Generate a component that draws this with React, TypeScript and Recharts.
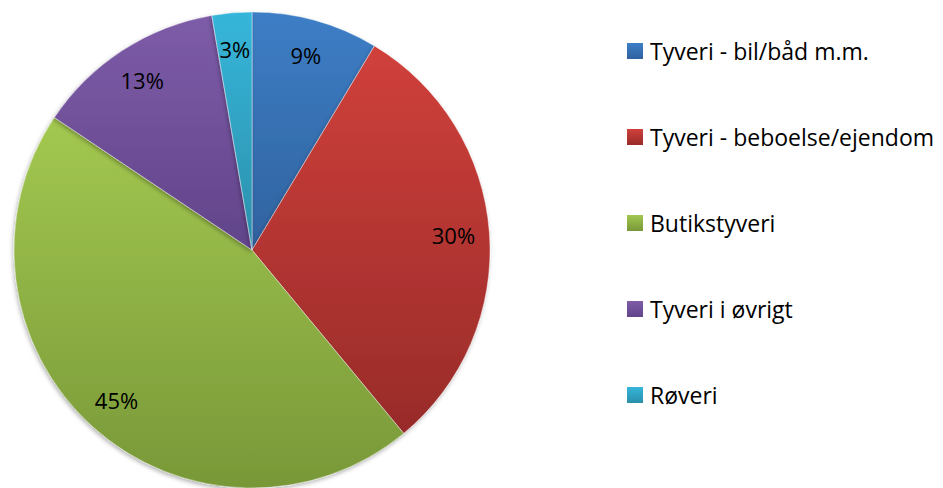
import { PieChart, Pie, Cell, Legend } from "recharts";

const categories = [
  "Tyveri - bil/båd m.m.",
  "Tyveri - beboelse/ejendom",
  "Butikstyveri",
  "Tyveri i øvrigt",
  "Røveri",
];
const shares = [8.6, 30.4, 45.4, 12.9, 2.7];

const data = categories.map((name, i) => ({ name, value: shares[i] }));

// top / bottom colours for each slice's vertical gradient
const COLORS: [string, string][] = [
  ["#3d7ec6", "#30629e"],
  ["#d0403b", "#982b29"],
  ["#a3c850", "#789838"],
  ["#7e5ca8", "#61448a"],
  ["#36b6da", "#2b8fab"],
];

const FONT = "'Open Sans', Lato, sans-serif";
const RAD = Math.PI / 180;

function renderLabel(props: any) {
  const { cx, cy, midAngle, outerRadius, percent } = props;
  const r = outerRadius - 36;
  const x = cx + r * Math.cos(-midAngle * RAD);
  const y = cy + r * Math.sin(-midAngle * RAD);
  return (
    <text
      x={x}
      y={y}
      fill="#000"
      textAnchor="middle"
      dominantBaseline="central"
      fontSize={22}
      fontFamily={FONT}
    >
      {`${Math.round(percent * 100)}%`}
    </text>
  );
}

function LegendBox() {
  return (
    <div style={{ fontFamily: FONT, fontSize: 23, color: "#000" }}>
      {data.map((d, i) => (
        <div
          key={d.name}
          style={{ display: "flex", alignItems: "center", height: 26, marginBottom: 60 }}
        >
          <span
            style={{
              width: 16,
              height: 16,
              marginRight: 7,
              flexShrink: 0,
              background: `linear-gradient(${COLORS[i][0]}, ${COLORS[i][1]})`,
            }}
          />
          <span style={{ whiteSpace: "nowrap" }}>{d.name}</span>
        </div>
      ))}
    </div>
  );
}

export default function App() {
  return (
    <div style={{ position: "absolute", left: 0, top: 0, background: "#fff" }}>
      <PieChart width={943} height={488} margin={{ top: 0, right: 0, bottom: 0, left: 0 }}>
        <defs>
          {COLORS.map((c, i) => (
            <linearGradient key={i} id={`g${i}`} x1="0" y1="0" x2="0" y2="1">
              <stop offset="0%" stopColor={c[0]} />
              <stop offset="100%" stopColor={c[1]} />
            </linearGradient>
          ))}
          <filter id="shadow" x="-10%" y="-10%" width="120%" height="120%">
            <feDropShadow dx="-1" dy="2" stdDeviation="2" floodColor="#000" floodOpacity="0.3" />
          </filter>
        </defs>
        <Pie
          data={data}
          dataKey="value"
          nameKey="name"
          cx={252}
          cy={250}
          outerRadius={238}
          startAngle={90}
          endAngle={-270}
          stroke="#ffffff"
          strokeWidth={0.4}
          label={renderLabel}
          labelLine={false}
          isAnimationActive={false}
          style={{ filter: "url(#shadow)" }}
        >
          {data.map((_, i) => (
            <Cell key={i} fill={`url(#g${i})`} />
          ))}
        </Pie>
        <Legend
          layout="vertical"
          content={<LegendBox />}
          wrapperStyle={{ left: 627, top: 38, width: 316 }}
        />
      </PieChart>
    </div>
  );
}
